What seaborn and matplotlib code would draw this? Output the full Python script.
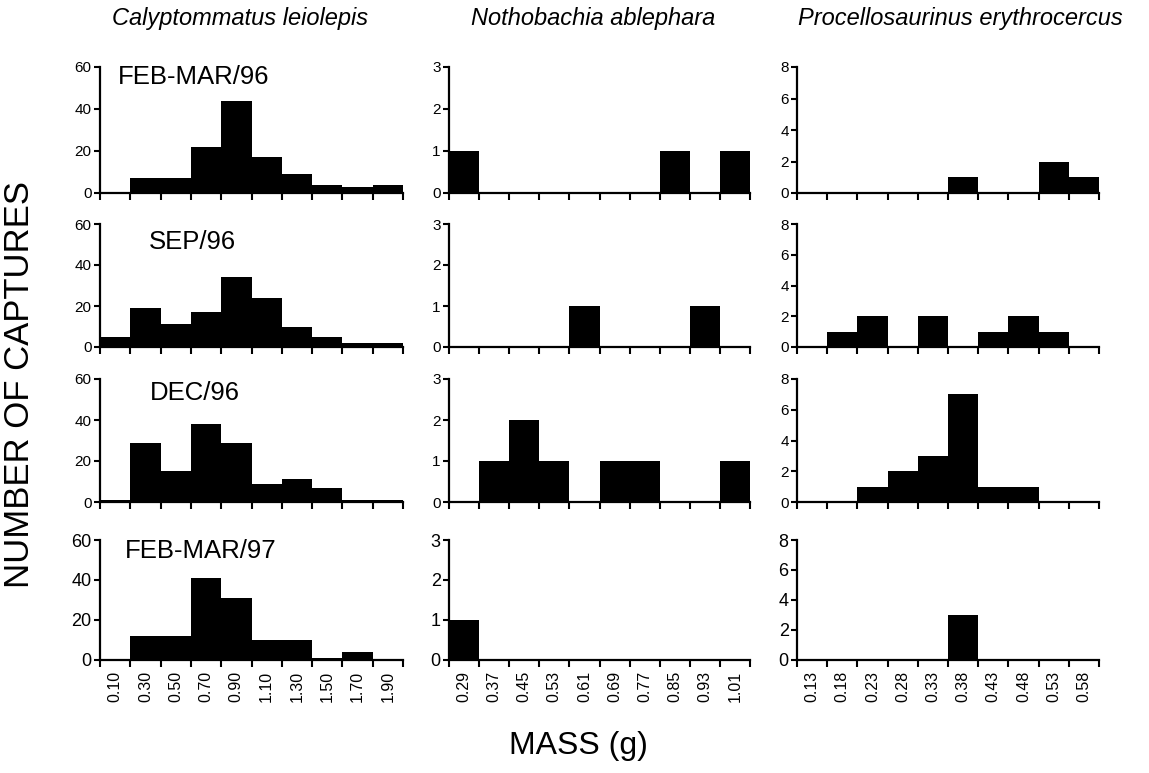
import matplotlib
matplotlib.use("Agg")
import matplotlib.pyplot as plt
import seaborn as sns
import pandas as pd
import numpy as np
from matplotlib.ticker import FixedLocator

sns.set_style("white")
plt.rcParams['font.family'] = ['Liberation Sans', 'DejaVu Sans']
plt.rcParams['text.color'] = 'black'
plt.rcParams['xtick.color'] = 'black'
plt.rcParams['ytick.color'] = 'black'
plt.rcParams['axes.labelcolor'] = 'black'

species = ["Calyptommatus leiolepis", "Nothobachia ablephara", "Procellosaurinus erythrocercus"]
periods = ["FEB-MAR/96", "SEP/96", "DEC/96", "FEB-MAR/97"]

bins_cal = ["0.10", "0.30", "0.50", "0.70", "0.90", "1.10", "1.30", "1.50", "1.70", "1.90"]
bins_not = ["0.29", "0.37", "0.45", "0.53", "0.61", "0.69", "0.77", "0.85", "0.93", "1.01"]
bins_pro = ["0.13", "0.18", "0.23", "0.28", "0.33", "0.38", "0.43", "0.48", "0.53", "0.58"]

cal_feb96 = [0, 7, 7, 22, 44, 17, 9, 4, 3, 4]
cal_sep96 = [5, 19, 11, 17, 34, 24, 10, 5, 2, 2]
cal_dec96 = [1, 29, 15, 38, 29, 9, 11, 7, 1, 1]
cal_feb97 = [0, 12, 12, 41, 31, 10, 10, 1, 4, 0]

not_feb96 = [1, 0, 0, 0, 0, 0, 0, 1, 0, 1]
not_sep96 = [0, 0, 0, 0, 1, 0, 0, 0, 1, 0]
not_dec96 = [0, 1, 2, 1, 0, 1, 1, 0, 0, 1]
not_feb97 = [1, 0, 0, 0, 0, 0, 0, 0, 0, 0]

pro_feb96 = [0, 0, 0, 0, 0, 1, 0, 0, 2, 1]
pro_sep96 = [0, 1, 2, 0, 2, 0, 1, 2, 1, 0]
pro_dec96 = [0, 0, 1, 2, 3, 7, 1, 1, 0, 0]
pro_feb97 = [0, 0, 0, 0, 0, 3, 0, 0, 0, 0]

col_bins = [bins_cal, bins_not, bins_pro]
col_data = [
    [cal_feb96, cal_sep96, cal_dec96, cal_feb97],
    [not_feb96, not_sep96, not_dec96, not_feb97],
    [pro_feb96, pro_sep96, pro_dec96, pro_feb97],
]
col_ymax = [60, 3, 8]
col_ystep = [20, 1, 2]

W, H = 1149, 773
fig = plt.figure(figsize=(W / 100, H / 100), dpi=100)

col_lr = [(100, 403), (449, 750), (797, 1099)]
row_tb = [(67, 193), (224, 347), (379, 502), (540, 660)]
period_pos = [(0.06, 0.92), (0.16, 0.85), (0.165, 0.89), (0.083, 0.91)]

for c in range(3):
    for r in range(4):
        l, rr = col_lr[c]
        t, b = row_tb[r]
        ax = fig.add_axes([l / W, 1 - b / H, (rr - l) / W, (b - t) / H])
        df = pd.DataFrame({"mass": col_bins[c], "n": col_data[c][r]})
        sns.barplot(data=df, x="mass", y="n", order=col_bins[c], color="black",
                    saturation=1, width=1.0, edgecolor="black", linewidth=0, ax=ax)
        ax.set_xlim(-0.5, 9.5)
        ax.set_ylim(0, col_ymax[c])
        ax.set_yticks(np.arange(0, col_ymax[c] + 0.001, col_ystep[c]))
        ax.set_xlabel("")
        ax.set_ylabel("")
        sns.despine(ax=ax)
        for s in ["left", "bottom"]:
            ax.spines[s].set_linewidth(1.6)
            ax.spines[s].set_color("black")
        ax.xaxis.set_minor_locator(FixedLocator(np.arange(-0.5, 10, 1.0)))
        ax.tick_params(axis="x", which="minor", direction="out", length=5, width=1.5, color="black", bottom=True)
        ax.tick_params(axis="x", which="major", length=0, bottom=True)
        ax.tick_params(axis="y", which="major", direction="out", length=4, width=1.5, color="black", left=True,
                       labelsize=(13 if r == 3 else 11), pad=2)
        if r == 3:
            ax.set_xticks(range(10))
            ax.set_xticklabels(col_bins[c], rotation=90, fontsize=11.5)
            ax.tick_params(axis="x", which="major", pad=8)
        else:
            ax.tick_params(axis="x", which="major", labelbottom=False)
        if c == 0:
            ax.text(period_pos[r][0], period_pos[r][1], periods[r], transform=ax.transAxes,
                    ha="left", va="center", fontsize=18.5, color="black")

title_x = [240, 593, 960]
for c in range(3):
    fig.text(title_x[c] / W, 1 - 18 / H, species[c], ha="center", va="center",
             fontsize=17, style="italic", color="black")

fig.text(20 / W, 1 - 384 / H, "NUMBER OF CAPTURES", rotation=90, ha="center", va="center",
         fontsize=25, color="black")
fig.text(578 / W, 1 - 746 / H, "MASS (g)", ha="center", va="center", fontsize=23, color="black")

fig.savefig("out.png", dpi=100)
